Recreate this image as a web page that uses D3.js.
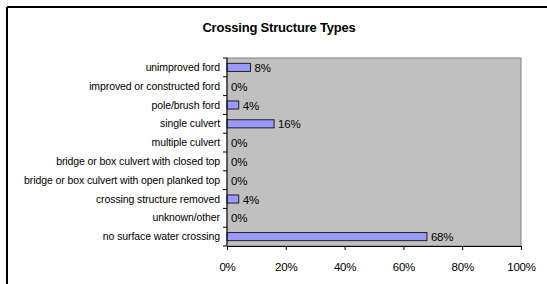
<!DOCTYPE html>
<html>
<head>
<meta charset="utf-8">
<script src="https://cdn.jsdelivr.net/npm/d3@7"></script>
<style>
  body { margin: 0; background: #fff; }
  text { font-family: "Liberation Sans", Arial, sans-serif; }
</style>
</head>
<body>
<div id="chart"></div>
<script>
const categories = [
  "unimproved ford",
  "improved or constructed ford",
  "pole/brush ford",
  "single culvert",
  "multiple culvert",
  "bridge or box culvert with closed top",
  "bridge or box culvert with open planked top",
  "crossing structure removed",
  "unknown/other",
  "no surface water crossing"
];
const values = [8, 0, 4, 16, 0, 0, 0, 4, 0, 68];
const xTicks = [0, 20, 40, 60, 80, 100];

const W = 547, H = 284;
const margin = {top: 58, right: 26, bottom: 38, left: 227},
      width = W - margin.left - margin.right,
      height = H - margin.top - margin.bottom;

const svg = d3.select("#chart")
  .append("svg")
    .attr("width", W)
    .attr("height", H);

// outer chart border (only top and left show in the crop)
svg.append("line")
  .attr("x1", 7).attr("y1", 7).attr("x2", W).attr("y2", 7)
  .attr("stroke", "#000").attr("stroke-width", 2);
svg.append("line")
  .attr("x1", 7).attr("y1", 7).attr("x2", 7).attr("y2", H)
  .attr("stroke", "#000").attr("stroke-width", 2);

svg.append("text")
  .attr("x", 279)
  .attr("y", 32)
  .attr("text-anchor", "middle")
  .attr("font-size", 13)
  .attr("font-weight", "bold")
  .attr("letter-spacing", -0.2)
  .text("Crossing Structure Types");

const g = svg.append("g")
  .attr("transform", "translate(" + margin.left + "," + margin.top + ")");

const xScale = d3.scaleLinear().domain([0, 100]).range([0, width]);
const yScale = d3.scaleBand().domain(categories).range([0, height]).paddingInner(0.57).paddingOuter(0.285);

// plot area
g.append("rect")
  .attr("x", 0).attr("y", 0)
  .attr("width", width).attr("height", height)
  .attr("fill", "#c0c0c0")
  .attr("stroke", "#808080")
  .attr("stroke-width", 1);

// bars
g.selectAll(".bar")
  .data(values)
  .enter().append("rect")
    .attr("class", "bar")
    .attr("x", 0)
    .attr("y", (d, i) => yScale(categories[i]))
    .attr("width", d => xScale(d))
    .attr("height", yScale.bandwidth())
    .attr("fill", "#9999ff")
    .attr("stroke", "#222")
    .attr("stroke-width", 1)
    .style("display", d => d > 0 ? null : "none");

// value labels
g.selectAll(".val")
  .data(values)
  .enter().append("text")
    .attr("class", "val")
    .attr("x", d => xScale(d) + 4)
    .attr("y", (d, i) => yScale(categories[i]) + yScale.bandwidth() / 2 + 4.5)
    .attr("font-size", 11.5)
    .attr("letter-spacing", -0.2)
    .attr("fill", "#000")
    .text(d => d + "%");

// y axis line and ticks at band boundaries
const step = height / categories.length;
g.append("line")
  .attr("x1", 0).attr("y1", 0).attr("x2", 0).attr("y2", height)
  .attr("stroke", "#000");
d3.range(categories.length + 1).forEach(i => {
  g.append("line")
    .attr("x1", -4).attr("x2", 0)
    .attr("y1", i * step).attr("y2", i * step)
    .attr("stroke", "#000");
});

// category labels
g.selectAll(".cat")
  .data(categories)
  .enter().append("text")
    .attr("class", "cat")
    .attr("x", -7)
    .attr("y", d => yScale(d) + yScale.bandwidth() / 2 + 3.5)
    .attr("text-anchor", "end")
    .attr("font-size", 10.5)
    .attr("letter-spacing", -0.1)
    .text(d => d);

// x axis
g.append("g")
  .attr("transform", "translate(0," + height + ")")
  .call(d3.axisBottom(xScale)
          .tickValues(xTicks)
          .tickSize(4)
          .tickFormat(d => d + "%"))
  .call(a => a.select(".domain").attr("stroke", "#000"))
  .call(a => a.selectAll(".tick line").attr("stroke", "#000"))
  .call(a => a.selectAll(".tick text")
      .attr("y", 17)
      .attr("font-size", 11.5)
      .attr("letter-spacing", -0.2)
      .attr("font-family", "Liberation Sans, Arial, sans-serif")
      .attr("fill", "#000"));
</script>
</body>
</html>
